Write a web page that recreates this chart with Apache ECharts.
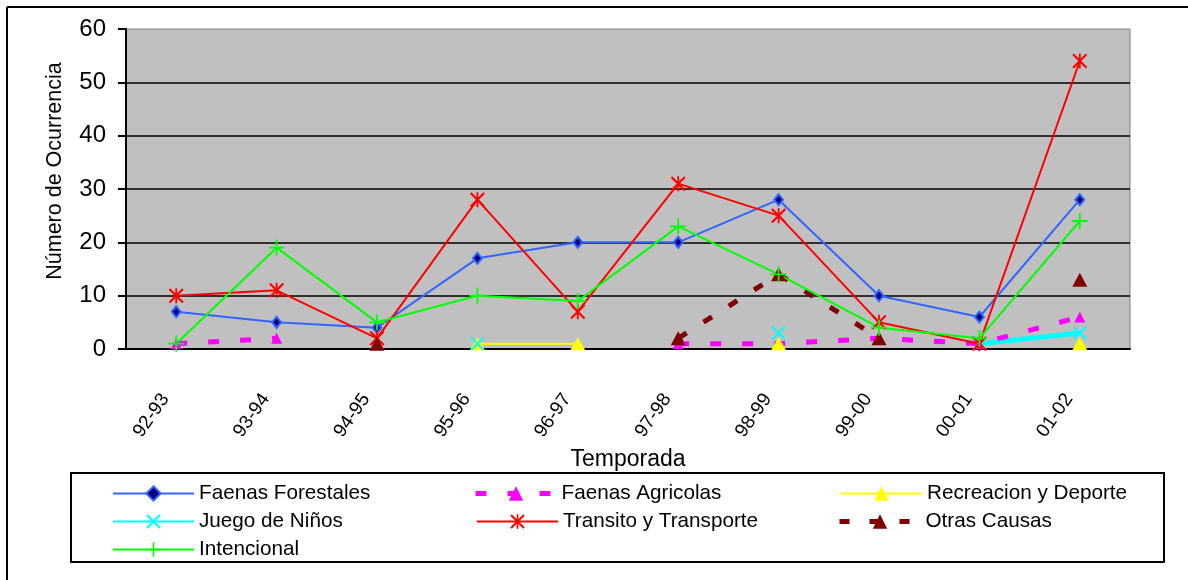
<!DOCTYPE html>
<html>
<head>
<meta charset="utf-8">
<script src="https://cdn.jsdelivr.net/npm/echarts@6/dist/echarts.min.js"></script>
<style>
html,body{margin:0;padding:0;background:#fff;}
#chart{width:1188px;height:580px;}
</style>
</head>
<body>
<div id="chart"></div>
<script>
var categories = ['92-93','93-94','94-95','95-96','96-97','97-98','98-99','99-00','00-01','01-02'];
var faenasForestales = [7, 5, 4, 17, 20, 20, 28, 10, 6, 28];
var faenasAgricolas = [1, 2, null, null, null, 1, 1, 2, 1, 6];
var recreacionDeporte = [null, null, null, 1, 1, null, 1, null, null, 1];
var juegoNinos = [null, null, null, 1, null, null, 3, null, 1, 3];
var transitoTransporte = [10, 11, 2, 28, 7, 31, 25, 5, 1, 54];
var otrasCausas = [null, null, 1, null, null, 2, 14, 2, null, 13];
var intencional = [1, 19, 5, 10, 9, 23, 14, 4, 2, 24];
var yTicks = [0, 10, 20, 30, 40, 50, 60];

var FONT = '"Liberation Sans", Arial, sans-serif';
var X_PATH = 'path://M0,1L1,0L5,4L9,0L10,1L6,5L10,9L9,10L5,6L1,10L0,9L4,5Z';
var AST_PATH = 'path://M0,1L1,0L5,4L9,0L10,1L6,5L10,9L9,10L5,6L1,10L0,9L4,5Z M4.4,0H5.6V10H4.4Z';
var PLUS_PATH = 'path://M4.45,0H5.55V4.45H10V5.55H5.55V10H4.45V5.55H0V4.45H4.45Z';

var chart = echarts.init(document.getElementById('chart'), null, {renderer: 'canvas'});

function legendAt(name, left, top, lineWidth) {
  var l = {
    data: [name], left: left, top: top, padding: 0,
    itemWidth: 81, itemHeight: 18, selectedMode: false,
    textStyle: {fontFamily: FONT, fontSize: 20.7, color: '#000'}
  };
  if (lineWidth) { l.lineStyle = {width: lineWidth}; }
  return l;
}

var option = {
  animation: false,
  backgroundColor: '#fff',
  textStyle: {fontFamily: FONT},
  grid: {
    left: 126, top: 29, width: 1004, height: 320,
    show: true, backgroundColor: '#C0C0C0', borderColor: '#808080', borderWidth: 1
  },
  xAxis: {
    type: 'category', data: categories, boundaryGap: true,
    name: 'Temporada', nameLocation: 'middle', nameGap: 82,
    nameTextStyle: {fontFamily: FONT, fontSize: 23, color: '#000'},
    axisLine: {lineStyle: {color: '#000', width: 2}},
    axisTick: {inside: true, length: 8, lineStyle: {color: '#000', width: 2}},
    axisLabel: {rotate: 55, margin: 31, padding: [0, 19, 0, 0], fontFamily: FONT, fontSize: 19, color: '#000', interval: 0}
  },
  yAxis: {
    type: 'value', min: yTicks[0], max: yTicks[yTicks.length - 1], interval: 10,
    name: 'Número de Ocurrencia', nameLocation: 'middle', nameGap: 60, nameRotate: 90,
    nameTextStyle: {fontFamily: FONT, fontSize: 21.5, color: '#000', padding: [0, 0, 0, 36]},
    axisLine: {show: true, lineStyle: {color: '#000', width: 2}},
    axisTick: {show: true, inside: false, length: 8, lineStyle: {color: '#000', width: 2}},
    axisLabel: {margin: 20, fontFamily: FONT, fontSize: 24, color: '#000'},
    splitLine: {show: true, showMinLine: false, showMaxLine: false, lineStyle: {color: '#000', width: 1.5}}
  },
  legend: [
    legendAt('Faenas Forestales', 112, 483),
    legendAt('Faenas Agricolas', 473, 483, 5),
    legendAt('Recreacion y Deporte', 840, 483),
    legendAt('Juego de Niños', 112, 511),
    legendAt('Transito y Transporte', 476, 511),
    legendAt('Otras Causas', 837, 511, 5),
    legendAt('Intencional', 112, 539)
  ],
  graphic: [
    {type: 'line', shape: {x1: 7, y1: 7, x2: 1188, y2: 7}, style: {stroke: '#000', lineWidth: 2}},
    {type: 'line', shape: {x1: 7, y1: 7, x2: 7, y2: 580}, style: {stroke: '#000', lineWidth: 2}},
    {type: 'rect', shape: {x: 71, y: 473, width: 1093, height: 89}, style: {fill: 'none', stroke: '#000', lineWidth: 2}, z: -1}
  ],
  series: [
    {
      name: 'Faenas Forestales', type: 'line', data: faenasForestales,
      symbol: 'diamond', symbolSize: [9, 11], showAllSymbol: true,
      lineStyle: {color: '#3366FF', width: 2},
      itemStyle: {color: '#000080', borderColor: '#3366FF', borderWidth: 2}
    },
    {
      name: 'Faenas Agricolas', type: 'line', data: faenasAgricolas,
      symbol: 'triangle', symbolSize: 11,
      lineStyle: {color: '#FF00FF', width: 5, type: [11, 21]},
      itemStyle: {color: '#FF00FF'}
    },
    {
      name: 'Recreacion y Deporte', type: 'line', data: recreacionDeporte,
      symbol: 'triangle', symbolSize: [15, 13],
      lineStyle: {color: '#FFFF00', width: 2},
      itemStyle: {color: '#FFFF00'}
    },
    {
      name: 'Juego de Niños', type: 'line', data: juegoNinos,
      symbol: X_PATH, symbolSize: 14,
      lineStyle: {color: '#00FFFF', width: 2},
      itemStyle: {color: '#00FFFF'}
    },
    {
      name: 'juego-tramo', type: 'line',
      data: juegoNinos.map(function (v, i) { return i >= 8 ? v : null; }),
      symbol: 'none', lineStyle: {color: '#00FFFF', width: 5}, z: 2
    },
    {
      name: 'Transito y Transporte', type: 'line', data: transitoTransporte,
      symbol: AST_PATH, symbolSize: 15,
      lineStyle: {color: '#FF0000', width: 2},
      itemStyle: {color: '#FF0000'}
    },
    {
      name: 'Otras Causas', type: 'line', data: otrasCausas,
      symbol: 'triangle', symbolSize: [15, 14],
      lineStyle: {color: '#800000', width: 5, type: [10, 20]},
      itemStyle: {color: '#800000'}
    },
    {
      name: 'Intencional', type: 'line', data: intencional,
      symbol: PLUS_PATH, symbolSize: 16,
      lineStyle: {color: '#00FF00', width: 2},
      itemStyle: {color: '#00FF00'}
    }
  ]
};
chart.setOption(option);
</script>
</body>
</html>
